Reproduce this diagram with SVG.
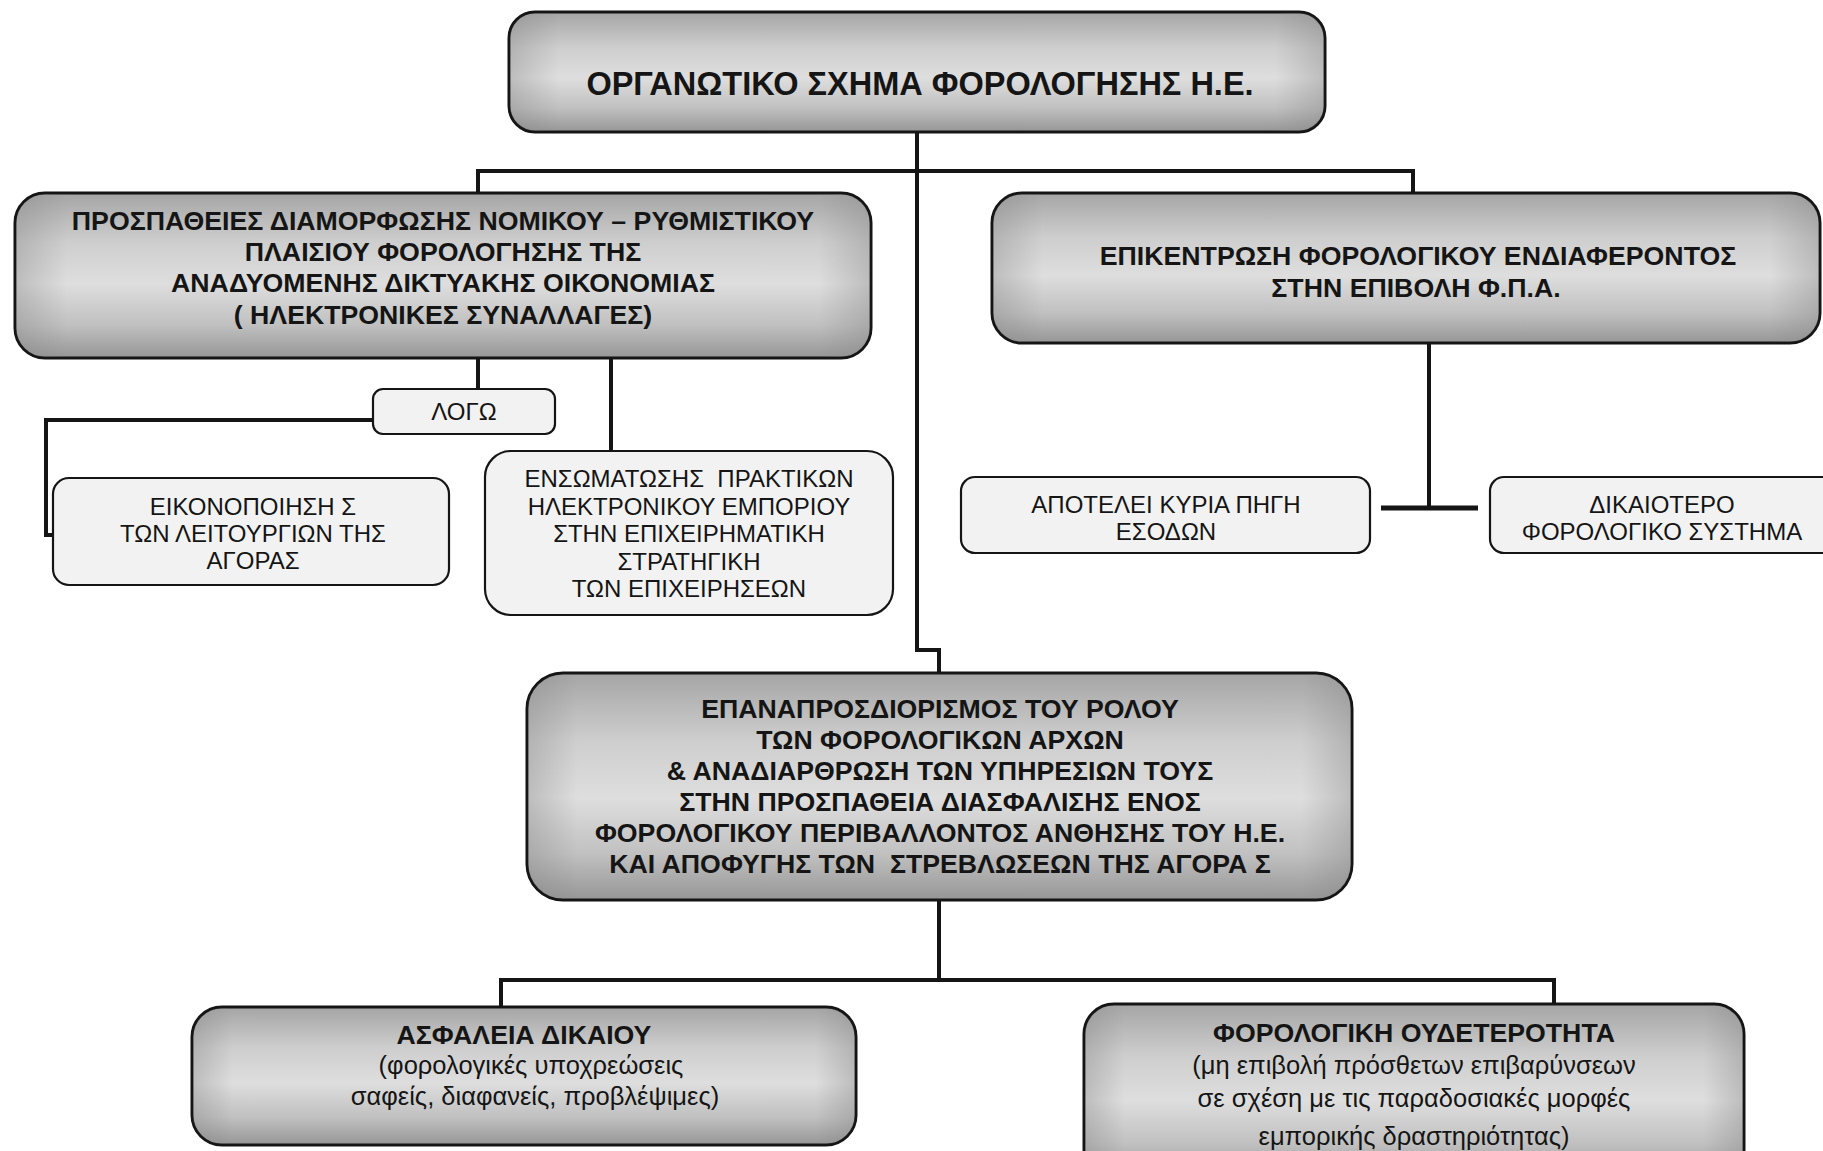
<svg xmlns="http://www.w3.org/2000/svg" width="1823" height="1151" viewBox="0 0 1823 1151">
<style>
.big{fill:url(#gv);stroke:#151515;stroke-width:3}
.edge{fill:url(#gh);stroke:none}
.small{fill:#f2f2f2;stroke:#151515;stroke-width:2.2}
.conn{fill:none;stroke:#151515;stroke-width:4;stroke-linejoin:miter}
text{font-family:'Liberation Sans',Arial,sans-serif;fill:#151515;text-anchor:middle;white-space:pre}
.tb{font-weight:bold;font-size:26.7px}
.tt{font-weight:bold;font-size:32.5px}
.tr{font-size:24px}
.tl{font-size:25.5px}
</style>
<defs>
<linearGradient id="gv" x1="0" y1="0" x2="0" y2="1">
<stop offset="0" stop-color="#a5a5a5"/>
<stop offset="0.3" stop-color="#cecece"/>
<stop offset="0.55" stop-color="#dedede"/>
<stop offset="0.8" stop-color="#c0c0c0"/>
<stop offset="1" stop-color="#969696"/>
</linearGradient>
<linearGradient id="gh" x1="0" y1="0" x2="1" y2="0">
<stop offset="0" stop-color="#808080" stop-opacity="0.35"/>
<stop offset="0.06" stop-color="#808080" stop-opacity="0"/>
<stop offset="0.94" stop-color="#808080" stop-opacity="0"/>
<stop offset="1" stop-color="#808080" stop-opacity="0.35"/>
</linearGradient>
</defs>
<g id="connectors">
<path class="conn" d="M917 131V650H939V673"/>
<path class="conn" d="M478 193V171H1413V193"/>
<path class="conn" d="M478 358V389"/>
<path class="conn" d="M372 420H46V535H53"/>
<path class="conn" d="M611 358V451"/>
<path class="conn" d="M1429 343V507"/>
<path class="conn" d="M1381 508H1478" style="stroke-width:5"/>
<path class="conn" d="M939 900V980"/>
<path class="conn" d="M501 1007V980H1554V1004"/>
</g>
<g id="title">
<rect class="big" x="509" y="12" width="816" height="120" rx="26"/>
<rect class="edge" x="510" y="13" width="814" height="118" rx="25"/>
<text class="tt" x="920" y="95">ΟΡΓΑΝΩΤΙΚΟ ΣΧΗΜΑ ΦΟΡΟΛΟΓΗΣΗΣ Η.Ε.</text>
</g>
<g id="node-left">
<rect class="big" x="15" y="193" width="856" height="165" rx="30"/>
<rect class="edge" x="16" y="194" width="854" height="163" rx="29"/>
<text class="tb" x="443" y="230">ΠΡΟΣΠΑΘΕΙΕΣ ΔΙΑΜΟΡΦΩΣΗΣ ΝΟΜΙΚΟΥ – ΡΥΘΜΙΣΤΙΚΟΥ</text>
<text class="tb" x="443" y="261">ΠΛΑΙΣΙΟΥ ΦΟΡΟΛΟΓΗΣΗΣ ΤΗΣ</text>
<text class="tb" x="443" y="292">ΑΝΑΔΥΟΜΕΝΗΣ ΔΙΚΤΥΑΚΗΣ ΟΙΚΟΝΟΜΙΑΣ</text>
<text class="tb" x="443" y="324">( ΗΛΕΚΤΡΟΝΙΚΕΣ ΣΥΝΑΛΛΑΓΕΣ)</text>
</g>
<g id="node-right">
<rect class="big" x="992" y="193" width="828" height="150" rx="30"/>
<rect class="edge" x="993" y="194" width="826" height="148" rx="29"/>
<text class="tb" x="1418" y="265">ΕΠΙΚΕΝΤΡΩΣΗ ΦΟΡΟΛΟΓΙΚΟΥ ΕΝΔΙΑΦΕΡΟΝΤΟΣ</text>
<text class="tb" x="1416" y="297">ΣΤΗΝ ΕΠΙΒΟΛΗ Φ.Π.Α.</text>
</g>
<g id="node-logo">
<rect class="small" x="373" y="389" width="182" height="45" rx="10"/>
<text class="tr" x="464" y="420">ΛΟΓΩ</text>
</g>
<g id="node-eikonopoiisi">
<rect class="small" x="53" y="478" width="396" height="107" rx="16"/>
<text class="tr" x="253" y="515">ΕΙΚΟΝΟΠΟΙΗΣΗ Σ</text>
<text class="tr" x="253" y="542">ΤΩΝ ΛΕΙΤΟΥΡΓΙΩΝ ΤΗΣ</text>
<text class="tr" x="253" y="569">ΑΓΟΡΑΣ</text>
</g>
<g id="node-ensomatosi">
<rect class="small" x="485" y="451" width="408" height="164" rx="26"/>
<text class="tr" x="689" y="487">ΕΝΣΩΜΑΤΩΣΗΣ  ΠΡΑΚΤΙΚΩΝ</text>
<text class="tr" x="689" y="515">ΗΛΕΚΤΡΟΝΙΚΟΥ ΕΜΠΟΡΙΟΥ</text>
<text class="tr" x="689" y="542">ΣΤΗΝ ΕΠΙΧΕΙΡΗΜΑΤΙΚΗ</text>
<text class="tr" x="689" y="570">ΣΤΡΑΤΗΓΙΚΗ</text>
<text class="tr" x="689" y="597">ΤΩΝ ΕΠΙΧΕΙΡΗΣΕΩΝ</text>
</g>
<g id="node-apotelei">
<rect class="small" x="961" y="477" width="409" height="76" rx="14"/>
<text class="tr" x="1166" y="513">ΑΠΟΤΕΛΕΙ ΚΥΡΙΑ ΠΗΓΗ</text>
<text class="tr" x="1166" y="540">ΕΣΟΔΩΝ</text>
</g>
<g id="node-dikaiotero">
<rect class="small" x="1490" y="477" width="350" height="76" rx="14"/>
<text class="tr" x="1662" y="513">ΔΙΚΑΙΟΤΕΡΟ</text>
<text class="tr" x="1662" y="540">ΦΟΡΟΛΟΓΙΚΟ ΣΥΣΤΗΜΑ</text>
</g>
<g id="node-center">
<rect class="big" x="527" y="673" width="825" height="227" rx="36"/>
<rect class="edge" x="528" y="674" width="823" height="225" rx="35"/>
<text class="tb" x="940" y="718">ΕΠΑΝΑΠΡΟΣΔΙΟΡΙΣΜΟΣ ΤΟΥ ΡΟΛΟΥ</text>
<text class="tb" x="940" y="749">ΤΩΝ ΦΟΡΟΛΟΓΙΚΩΝ ΑΡΧΩΝ</text>
<text class="tb" x="940" y="780">&amp; ΑΝΑΔΙΑΡΘΡΩΣΗ ΤΩΝ ΥΠΗΡΕΣΙΩΝ ΤΟΥΣ</text>
<text class="tb" x="940" y="811">ΣΤΗΝ ΠΡΟΣΠΑΘΕΙΑ ΔΙΑΣΦΑΛΙΣΗΣ ΕΝΟΣ</text>
<text class="tb" x="940" y="842">ΦΟΡΟΛΟΓΙΚΟΥ ΠΕΡΙΒΑΛΛΟΝΤΟΣ ΑΝΘΗΣΗΣ ΤΟΥ Η.Ε.</text>
<text class="tb" x="940" y="873">ΚΑΙ ΑΠΟΦΥΓΗΣ ΤΩΝ  ΣΤΡΕΒΛΩΣΕΩΝ ΤΗΣ ΑΓΟΡΑ Σ</text>
</g>
<g id="node-asfaleia">
<rect class="big" x="192" y="1007" width="664" height="138" rx="30"/>
<rect class="edge" x="193" y="1008" width="662" height="136" rx="29"/>
<text class="tb" x="524" y="1044">ΑΣΦΑΛΕΙΑ ΔΙΚΑΙΟΥ</text>
<text class="tl" x="531" y="1074">(φορολογικές υποχρεώσεις</text>
<text class="tl" x="535" y="1105">σαφείς, διαφανείς, προβλέψιμες)</text>
</g>
<g id="node-oudeterotita">
<rect class="big" x="1084" y="1004" width="660" height="175" rx="30"/>
<rect class="edge" x="1085" y="1005" width="658" height="173" rx="29"/>
<text class="tb" x="1414" y="1042">ΦΟΡΟΛΟΓΙΚΗ ΟΥΔΕΤΕΡΟΤΗΤΑ</text>
<text class="tl" x="1414" y="1074">(μη επιβολή πρόσθετων επιβαρύνσεων</text>
<text class="tl" x="1414" y="1107">σε σχέση με τις παραδοσιακές μορφές</text>
<text class="tl" x="1414" y="1145">εμπορικής δραστηριότητας)</text>
</g>
</svg>
